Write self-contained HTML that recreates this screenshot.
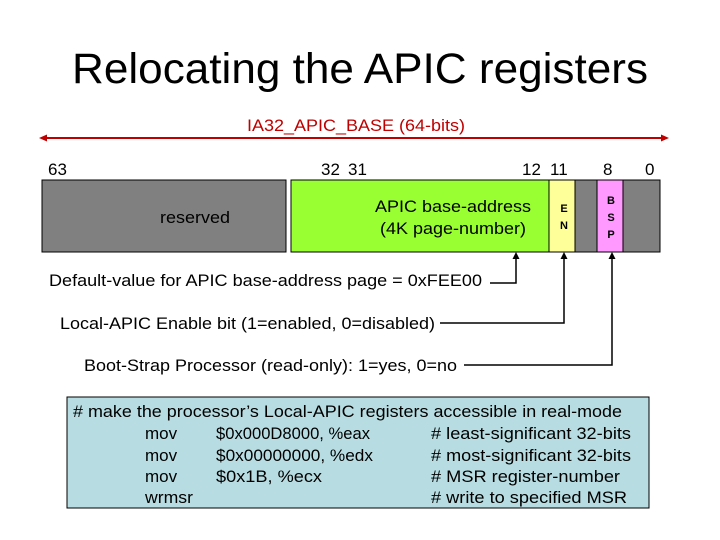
<!DOCTYPE html>
<html><head><meta charset="utf-8"><style>
html,body{margin:0;padding:0;background:#fff;}
svg{display:block;font-family:"Liberation Sans",Arial,sans-serif;}
</style></head><body>
<svg width="720" height="540" viewBox="0 0 720 540" xmlns="http://www.w3.org/2000/svg">
<text x="72" y="83" font-size="43" textLength="576" lengthAdjust="spacingAndGlyphs" fill="#000">Relocating the APIC registers</text>
<text x="247" y="131" font-size="17" textLength="218" lengthAdjust="spacingAndGlyphs" fill="#c00000">IA32_APIC_BASE (64-bits)</text>
<line x1="44" y1="138" x2="664" y2="138" stroke="#c00000" stroke-width="2"/>
<polygon points="39,138 47,134.5 47,141.5" fill="#c00000"/>
<polygon points="669,138 661,134.5 661,141.5" fill="#c00000"/>
<g font-size="17" fill="#000">
<text x="48" y="175">63</text>
<text x="321" y="175">32</text>
<text x="348" y="175">31</text>
<text x="522" y="175">12</text>
<text x="550" y="175">11</text>
<text x="603" y="175">8</text>
<text x="645" y="175">0</text>
</g>
<rect x="42" y="180" width="244" height="72" fill="#808080" stroke="#000" stroke-width="1"/>
<text x="160" y="223" font-size="17" textLength="70" lengthAdjust="spacingAndGlyphs">reserved</text>
<rect x="291" y="180" width="258" height="72" fill="#99ff33" stroke="#000" stroke-width="1"/>
<text x="375" y="212" font-size="17" textLength="156" lengthAdjust="spacingAndGlyphs">APIC base-address</text>
<text x="380" y="234" font-size="17" textLength="146" lengthAdjust="spacingAndGlyphs">(4K page-number)</text>
<rect x="549" y="180" width="26" height="72" fill="#ffff99" stroke="#000" stroke-width="1"/>
<text x="564" y="212" font-size="11" font-weight="bold" text-anchor="middle">E</text>
<text x="564" y="229" font-size="11" font-weight="bold" text-anchor="middle">N</text>
<rect x="575" y="180" width="22" height="72" fill="#808080" stroke="#000" stroke-width="1"/>
<rect x="597" y="180" width="26" height="72" fill="#ff99ff" stroke="#000" stroke-width="1"/>
<text x="611" y="204" font-size="11" font-weight="bold" text-anchor="middle">B</text>
<text x="611" y="221" font-size="11" font-weight="bold" text-anchor="middle">S</text>
<text x="611" y="238" font-size="11" font-weight="bold" text-anchor="middle">P</text>
<rect x="623" y="180" width="37" height="72" fill="#808080" stroke="#000" stroke-width="1"/>
<g stroke="#000" stroke-width="1.5" fill="none">
<polyline points="490,283 516,283 516,256"/>
<polyline points="440,323 564,323 564,256"/>
<polyline points="464,365 612,365 612,256"/>
</g>
<g fill="#000">
<polygon points="516,252 512.5,259 519.5,259"/>
<polygon points="564,252 560.5,259 567.5,259"/>
<polygon points="612,252 608.5,259 615.5,259"/>
</g>
<g font-size="17" fill="#000" lengthAdjust="spacingAndGlyphs">
<text x="49" y="286" textLength="433" lengthAdjust="spacingAndGlyphs">Default-value for APIC base-address page = 0xFEE00</text>
<text x="60" y="329" textLength="375" lengthAdjust="spacingAndGlyphs">Local-APIC Enable bit (1=enabled, 0=disabled)</text>
<text x="84" y="371" textLength="373" lengthAdjust="spacingAndGlyphs">Boot-Strap Processor (read-only): 1=yes, 0=no</text>
</g>
<rect x="67" y="397" width="582" height="111" fill="#b7dde2" stroke="#000" stroke-width="1"/>
<g font-size="17" fill="#000">
<text x="73" y="417" textLength="549" lengthAdjust="spacingAndGlyphs"># make the processor’s Local-APIC registers accessible in real-mode</text>
<text x="145" y="439">mov</text><text x="216" y="439" textLength="154" lengthAdjust="spacingAndGlyphs">$0x000D8000, %eax</text><text x="431" y="439" textLength="200" lengthAdjust="spacingAndGlyphs"># least-significant 32-bits</text>
<text x="145" y="461">mov</text><text x="216" y="461" textLength="157" lengthAdjust="spacingAndGlyphs">$0x00000000, %edx</text><text x="431" y="461" textLength="200" lengthAdjust="spacingAndGlyphs"># most-significant 32-bits</text>
<text x="145" y="482">mov</text><text x="216" y="482" textLength="106" lengthAdjust="spacingAndGlyphs">$0x1B, %ecx</text><text x="431" y="482" textLength="189" lengthAdjust="spacingAndGlyphs"># MSR register-number</text>
<text x="145" y="503" textLength="48" lengthAdjust="spacingAndGlyphs">wrmsr</text><text x="431" y="503" textLength="196" lengthAdjust="spacingAndGlyphs"># write to specified MSR</text>
</g>
</svg>
</body></html>
